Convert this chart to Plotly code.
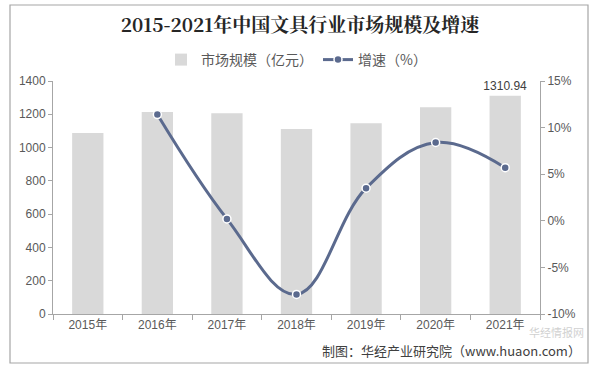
import plotly.graph_objects as go

years = ["2015年", "2016年", "2017年", "2018年", "2019年", "2020年", "2021年"]
market_size = [1088, 1214, 1206, 1112, 1146, 1242, 1310.94]
growth = [None, 11.4, 0.2, -7.9, 3.5, 8.4, 5.7]
bar_labels = ["", "", "", "", "", "", "1310.94"]
left_ticks = [0, 200, 400, 600, 800, 1000, 1200, 1400]
right_ticks = [-10, -5, 0, 5, 10, 15]
right_tick_text = ["-10%", "-5%", "0%", "5%", "10%", "15%"]

FONT = "Liberation Sans, Arial, Noto Sans CJK SC"
TXT = "#595959"

# plot area geometry (px)
L, R, T, B = 53, 540, 81, 314
W, H = R - L, B - T

def px_x(p):
    return (p - L) / W

def px_y(p):
    return (B - p) / H

fig = go.Figure()
fig.add_trace(go.Bar(
    x=years, y=market_size, name="市场规模（亿元）",
    marker=dict(color="#d9d9d9", line=dict(width=0)),
    width=0.45,
    text=bar_labels, textposition="outside", constraintext="none",
    textfont=dict(size=12, color="#404040", family=FONT),
    cliponaxis=False,
))
fig.add_trace(go.Scatter(
    x=years, y=growth, name="增速（%）", yaxis="y2",
    mode="lines+markers",
    line=dict(color="#5b6a8e", width=3, shape="spline", smoothing=1.1),
    marker=dict(size=8, color="#5b6a8e", line=dict(color="white", width=1.5)),
    cliponaxis=False,
))

fig.update_layout(
    width=600, height=369,
    margin=dict(l=L, r=600 - R, t=T, b=369 - B, pad=0, autoexpand=False),
    paper_bgcolor="white", plot_bgcolor="white",
    font=dict(family=FONT, size=12, color=TXT),
    title=dict(
        text="<b>2015-2021年中国文具行业市场规模及增速</b>",
        x=0.5, xanchor="center", y=1 - 25 / 369, yanchor="middle",
        font=dict(size=19, color="#262626", family="Noto Serif CJK SC, Noto Sans CJK SC"),
    ),
    showlegend=True,
    legend=dict(
        orientation="h", x=0.5, xanchor="center", y=px_y(60), yanchor="middle",
        font=dict(size=14, color=TXT, family="Noto Sans CJK SC"),
        itemwidth=30, bgcolor="rgba(0,0,0,0)",
    ),
    bargap=0.55,
    xaxis=dict(
        automargin=False,
        showline=True, linecolor="#a6a6a6", linewidth=1,
        ticks="outside", tickson="boundaries", ticklen=5, tickcolor="#a6a6a6",
        showgrid=False, tickfont=dict(size=12, color=TXT),
    ),
    yaxis=dict(
        automargin=False,
        range=[0, 1400], tickvals=left_ticks,
        showline=True, linecolor="#a6a6a6", linewidth=1,
        ticks="outside", ticklen=4, tickcolor="#a6a6a6",
        showgrid=False, zeroline=False, tickfont=dict(size=12, color=TXT),
    ),
    yaxis2=dict(
        automargin=False,
        range=[-10, 15], tickvals=right_ticks, ticktext=right_tick_text,
        overlaying="y", side="right",
        showline=True, linecolor="#a6a6a6", linewidth=1,
        ticks="outside", ticklen=4, tickcolor="#a6a6a6",
        showgrid=False, zeroline=False, tickfont=dict(size=12, color=TXT),
    ),
)

# outer frame
fig.add_shape(type="rect", xref="paper", yref="paper",
              x0=px_x(10), x1=px_x(588), y0=px_y(363), y1=px_y(5),
              line=dict(color="#a6a6a6", width=1.2), layer="below")

# watermark
fig.add_annotation(text="华经情报网", xref="paper", yref="paper",
                   x=px_x(586), y=px_y(332), xanchor="right", yanchor="middle",
                   showarrow=False, opacity=0.4,
                   font=dict(size=11, color="#8c8c8c", family="Noto Sans CJK SC"))

# footer
fig.add_annotation(text="制图：华经产业研究院（www.huaon.com）", xref="paper", yref="paper",
                   x=px_x(583), y=px_y(350), xanchor="right", yanchor="middle",
                   showarrow=False,
                   font=dict(size=13, color="#404040", family="Noto Sans CJK SC"))

fig.write_html("out.html",
               config={"displayModeBar": False},
               post_script="document.body.style.margin='0px';document.body.style.overflow='hidden';")
